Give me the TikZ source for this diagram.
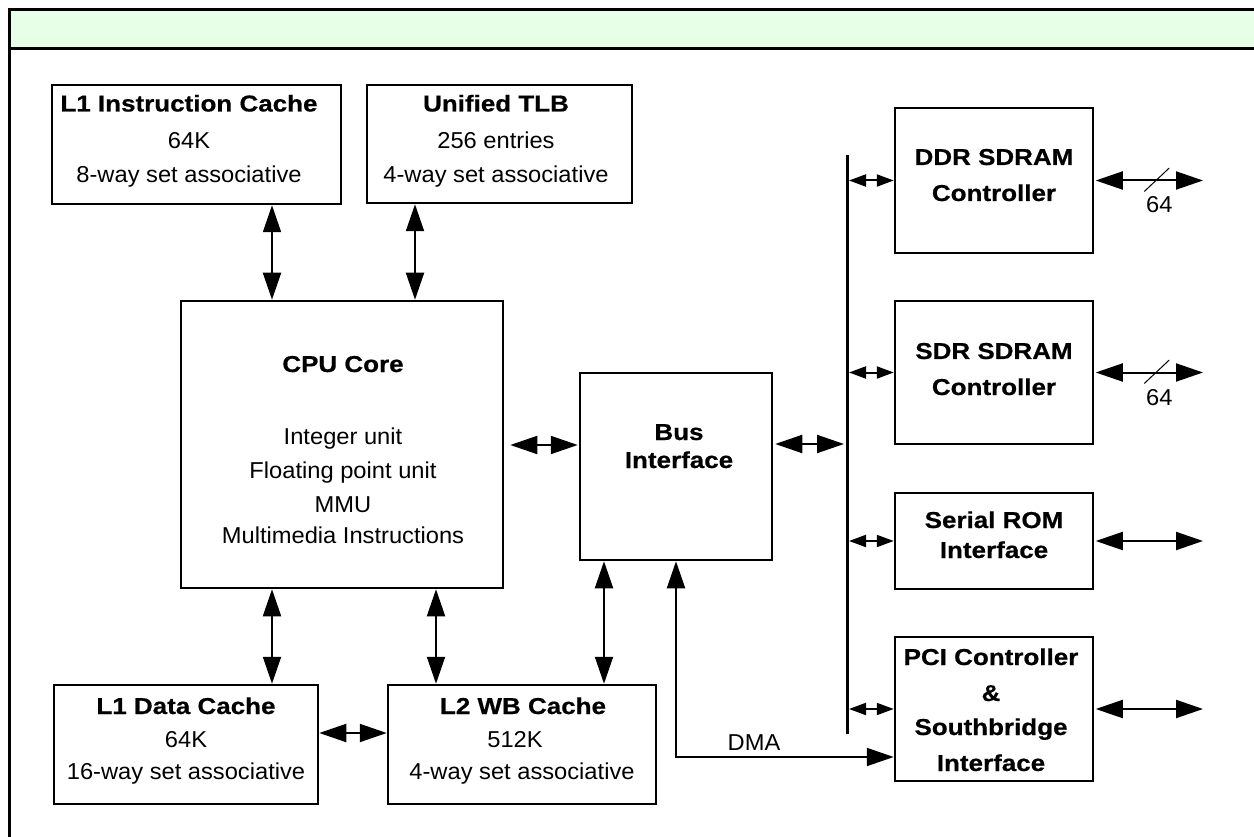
\documentclass[tikz,border=0pt]{standalone}
\usepackage{fontspec}
\setmainfont{Liberation Sans}[FakeStretch=1.03]
\newfontfamily\headfont{Liberation Sans}[FakeStretch=1.13, FakeBold=0.6]
\usetikzlibrary{arrows.meta,calc}
\definecolor{bandgreen}{RGB}{230,255,230}

\tikzset{
  box/.style={rectangle, line width=2.5pt, draw=black},
  txt/.style={anchor=base, font=\fontsize{23pt}{27pt}\selectfont},
  hd/.style={anchor=base, font=\fontsize{23pt}{27pt}\headfont\bfseries},
  both/.style={line width=2pt, {Triangle[length=27pt,width=18pt]}-{Triangle[length=27pt,width=18pt]}},
  tap/.style={line width=2pt, {Triangle[length=17pt,width=12pt]}-{Triangle[length=17pt,width=12pt]}},
}

\begin{document}
\begin{tikzpicture}
[every node/.style={inner sep=0pt}]
\useasboundingbox (0pt,0pt) rectangle (1254pt,-837pt);
\clip (0pt,0pt) rectangle (1254pt,-837pt);
% frame and title band
\fill [bandgreen] (9.5pt,-9.5pt) rectangle (1270pt,-48.5pt);
\draw [line width=3pt] (9.5pt,-850pt) -- (9.5pt,-9.5pt) -- (1270pt,-9.5pt);
\draw [line width=3pt] (9.5pt,-48.5pt) -- (1270pt,-48.5pt);
% blocks
\node (l1i) [box, minimum width=289pt, minimum height=119pt] at (196.5pt, -144.5pt) {};
\node (tlb) [box, minimum width=265pt, minimum height=118pt] at (499.5pt, -144.0pt) {};
\node (cpu) [box, minimum width=322pt, minimum height=287pt] at (342.0pt, -444.5pt) {};
\node (bus) [box, minimum width=192pt, minimum height=187pt] at (676.0pt, -466.5pt) {};
\node (l1d) [box, minimum width=264pt, minimum height=119pt] at (186.0pt, -744.5pt) {};
\node (l2)  [box, minimum width=268pt, minimum height=119pt] at (522.0pt, -744.5pt) {};
\node (ddr) [box, minimum width=198pt, minimum height=145pt] at (994.0pt, -180.5pt) {};
\node (sdr) [box, minimum width=198pt, minimum height=143pt] at (994.0pt, -372.5pt) {};
\node (rom) [box, minimum width=198pt, minimum height=96pt]  at (994.0pt, -541.0pt) {};
\node (pci) [box, minimum width=198pt, minimum height=144pt] at (994.0pt, -709.0pt) {};
% block texts
\node (l1i1) [hd]  at (189pt, -111.5pt) {L1 Instruction Cache};
\node (l1i2) [txt] at (189pt, -148.5pt) {64K};
\node (l1i3) [txt] at (189pt, -182.5pt) {8-way set associative};
\node (tlb1) [hd]  at (496pt, -111.5pt) {Unified TLB};
\node (tlb2) [txt] at (496pt, -148.5pt) {256 entries};
\node (tlb3) [txt] at (496pt, -182.5pt) {4-way set associative};
\node (cpu1) [hd]  at (343pt, -372pt) {CPU Core};
\node (cpu2) [txt] at (343pt, -444pt) {Integer unit};
\node (cpu3) [txt] at (343pt, -478pt) {Floating point unit};
\node (cpu4) [txt] at (343pt, -512pt) {MMU};
\node (cpu5) [txt] at (343pt, -543pt) {Multimedia Instructions};
\node (bus1) [hd]  at (679pt, -440pt) {Bus};
\node (bus2) [hd]  at (679pt, -468pt) {Interface};
\node (l1d1) [hd]  at (186pt, -714pt) {L1 Data Cache};
\node (l1d2) [txt] at (186pt, -747pt) {64K};
\node (l1d3) [txt] at (186pt, -779pt) {16-way set associative};
\node (l21)  [hd]  at (523pt, -714pt) {L2 WB Cache};
\node (l22)  [txt] at (515pt, -747pt) {512K};
\node (l23)  [txt] at (522pt, -779pt) {4-way set associative};
\node (ddr1) [hd]  at (994pt, -165pt) {DDR SDRAM};
\node (ddr2) [hd]  at (994pt, -201pt) {Controller};
\node (sdr1) [hd]  at (994pt, -359pt) {SDR SDRAM};
\node (sdr2) [hd]  at (994pt, -395pt) {Controller};
\node (rom1) [hd]  at (994pt, -528pt) {Serial ROM};
\node (rom2) [hd]  at (994pt, -558pt) {Interface};
\node (pci1) [hd]  at (991pt, -665pt) {PCI Controller};
\node (pci2) [hd]  at (991pt, -701pt) {\&};
\node (pci3) [hd]  at (991pt, -735pt) {Southbridge};
\node (pci4) [hd]  at (991pt, -771pt) {Interface};
% system bus
\coordinate (bltop) at (847pt, -155pt);
\coordinate (blbot) at (847pt, -734pt);
\draw [line width=3pt] (bltop) -- (blbot);
% core connections
\draw [both] (l1i.south -| 272pt,0) -- (cpu.north -| 272pt,0);
\draw [both] (tlb.south -| 415pt,0) -- (cpu.north -| 415pt,0);
\draw [both] (cpu.south -| 272pt,0) -- (l1d.north -| 272pt,0);
\draw [both] (cpu.south -| 436pt,0) -- (l2.north -| 436pt,0);
\draw [both] (bus.south -| 604pt,0) -- (l2.north -| 604pt,0);
\draw [both] (l1d.east |- 0,-733pt) -- (l2.west |- 0,-733pt);
\draw [both, shorten <=6pt, shorten >=1pt] (cpu.east |- 0,-445pt) -- (bus.west |- 0,-445pt);
\draw [both, shorten <=2pt, shorten >=3pt] (bus.east |- 0,-444pt) -- (bltop |- 0,-444pt);
% DMA path
\draw [both] (bus.south) |- (pci.west |- 0,-757pt);
\node (dma) [txt] at (754pt, -750pt) {DMA};
% bus taps
\draw [tap, shorten <=2pt] (ddr.west -| bltop) -- (ddr.west);
\draw [tap, shorten <=2pt] (sdr.west -| bltop) -- (sdr.west);
\draw [tap, shorten <=2pt] (rom.west -| bltop) -- (rom.west);
\draw [tap, shorten <=2pt] (pci.west -| bltop) -- (pci.west);
% external ports
\coordinate (ddrout) at (1203pt, -180.5pt);
\coordinate (sdrout) at (1203pt, -372.5pt);
\coordinate (romout) at (1203pt, -541.0pt);
\coordinate (pciout) at (1203pt, -709.0pt);
\draw [both, shorten <=1.5pt] (ddr.east) -- (ddrout);
\draw [both, shorten <=1.5pt] (sdr.east) -- (sdrout);
\draw [both, shorten <=1.5pt] (rom.east) -- (romout);
\draw [both, shorten <=1.5pt] (pci.east) -- (pciout);
\draw [line width=1pt] ($(ddr.east)+(50pt,-11pt)$) -- ++(25pt,23.5pt);
\draw [line width=1pt] ($(sdr.east)+(50pt,-11pt)$) -- ++(25pt,23.5pt);
\node (ddrw) [txt] at ($(ddr.east)+(65pt,-32.5pt)$) {64};
\node (sdrw) [txt] at ($(sdr.east)+(65pt,-32.5pt)$) {64};
\end{tikzpicture}
\end{document}
